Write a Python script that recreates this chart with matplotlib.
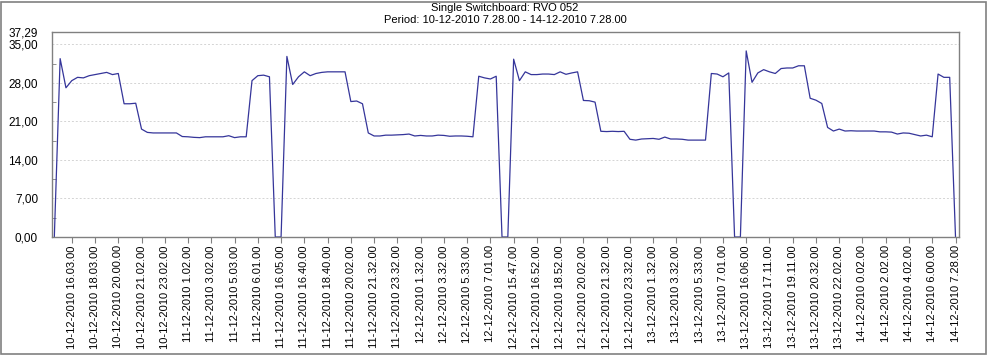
"""
Single switchboard temperature log, 10-12-2010 to 14-12-2010
"""

import matplotlib
matplotlib.use("Agg")
import matplotlib.pyplot as plt
from matplotlib.ticker import FixedLocator, FuncFormatter
from matplotlib.patches import Rectangle

# Data (one reading every ~30 min)
values = [
    0, 32.4, 27.1, 28.4, 29.0, 28.9, 29.3, 29.5, 29.7, 29.9, 29.5, 29.7,
    24.2, 24.2, 24.3, 19.6, 19.0, 18.9, 18.9, 18.9, 18.9, 18.9,
    18.25, 18.2, 18.1, 18.05, 18.2, 18.2, 18.2, 18.2, 18.4, 18.05, 18.2, 18.2,
    28.4, 29.3, 29.4, 29.1, 0, 0,
    32.8, 27.7, 29.1, 30.0, 29.3, 29.7, 29.9, 30.0, 30.0, 30.0, 30.0,
    24.6, 24.7, 24.2,
    18.9, 18.35, 18.35, 18.5, 18.5, 18.55, 18.6, 18.7, 18.35, 18.45, 18.35, 18.35,
    18.5, 18.45, 18.3, 18.35, 18.35, 18.3, 18.2,
    29.2, 28.9, 28.7, 29.2, 0, 0,
    32.3, 28.4, 30.0, 29.5, 29.5, 29.6, 29.6, 29.5, 30.0, 29.55, 29.8, 30.0,
    24.8, 24.75, 24.5,
    19.2, 19.15, 19.2, 19.15, 19.2,
    17.75, 17.6, 17.8, 17.85, 17.9, 17.75,
    18.15, 17.8, 17.8, 17.75, 17.6, 17.6, 17.6, 17.6,
    29.7, 29.6, 29.1, 29.8, 0, 0,
    33.8, 28.1, 29.8, 30.4, 30.0, 29.7, 30.6, 30.7, 30.7, 31.1, 31.1,
    25.2, 24.85, 24.25,
    19.9, 19.25, 19.6, 19.25, 19.3, 19.25, 19.25, 19.25, 19.25,
    19.1, 19.1, 19.05, 18.7, 18.9, 18.85, 18.6, 18.35, 18.5, 18.2,
    29.6, 29.0, 29.0, 0,
]

tick_labels = [
    "10-12-2010 16.03.00", "10-12-2010 18.03.00", "10-12-2010 20.00.00",
    "10-12-2010 21.02.00", "10-12-2010 23.02.00", "11-12-2010 1.02.00",
    "11-12-2010 3.02.00", "11-12-2010 5.03.00", "11-12-2010 6.01.00",
    "11-12-2010 16.05.00", "11-12-2010 16.40.00", "11-12-2010 18.40.00",
    "11-12-2010 20.02.00", "11-12-2010 21.32.00", "11-12-2010 23.32.00",
    "12-12-2010 1.32.00", "12-12-2010 3.32.00", "12-12-2010 5.33.00",
    "12-12-2010 7.01.00", "12-12-2010 15.47.00", "12-12-2010 16.52.00",
    "12-12-2010 18.52.00", "12-12-2010 20.02.00", "12-12-2010 21.32.00",
    "12-12-2010 23.32.00", "13-12-2010 1.32.00", "13-12-2010 3.32.00",
    "13-12-2010 5.33.00", "13-12-2010 7.01.00", "13-12-2010 16.06.00",
    "13-12-2010 17.11.00", "13-12-2010 19.11.00", "13-12-2010 20.32.00",
    "13-12-2010 22.02.00", "14-12-2010 0.02.00", "14-12-2010 2.02.00",
    "14-12-2010 4.02.00", "14-12-2010 6.00.00", "14-12-2010 7.28.00",
]

y_max = 37.29
title_1 = "Single Switchboard: RVO 052"
title_2 = "Period: 10-12-2010 7.28.00 - 14-12-2010 7.28.00"

plt.rcParams['font.family'] = ['Liberation Sans', 'DejaVu Sans']

fig = plt.figure(figsize=(9.9, 3.55), dpi=100)
ax = fig.add_axes([52 / 990, 1 - 237 / 355, (959 - 52) / 990, (237 - 31.7) / 355])

x = list(range(len(values)))
ax.plot(x, values, color="#35359a", linewidth=0.9)

# Axes limits
ax.set_xlim(-0.4, len(values) - 0.4)
ax.set_ylim(0, y_max)

# Y ticks: every 7 plus the max value
yticks = [0, 7, 14, 21, 28, 35, y_max]
ax.yaxis.set_major_locator(FixedLocator(yticks))
ax.yaxis.set_major_formatter(FuncFormatter(lambda v, p: f"{v:.2f}".replace(".", ",")))
ax.yaxis.set_minor_locator(FixedLocator([3.5, 10.5, 17.5, 24.5, 31.5]))
ax.tick_params(axis='y', which='major', length=0, pad=10, labelsize=8.5, colors='black')
ax.tick_params(axis='y', which='minor', direction='in', length=3, color='#808080')

# X ticks: every 4th reading starting at the 4th
xticks = [3 + 4 * k for k in range(len(tick_labels))]
ax.set_xticks(xticks)
ax.set_xticklabels(tick_labels, rotation=90, fontsize=8)
ax.tick_params(axis='x', length=4, color='#808080', pad=2)

# Dashed horizontal grid
for v in [7, 14, 21, 28, 35]:
    ax.axhline(v, color='#d4d4d4', linewidth=0.7, linestyle=(0, (2, 2)), zorder=0)

for s in ax.spines.values():
    s.set_color('#808080')
    s.set_linewidth(1.0)

# Titles
fig.text(505 / 990, 1 - 8 / 355, title_1, ha='center', va='center', fontsize=8)
fig.text(505 / 990, 1 - 20 / 355, title_2, ha='center', va='center', fontsize=8)

# Outer frame
fig.patches.append(Rectangle((1 / 990, 1 / 355), 985 / 990, 352 / 355,
                             transform=fig.transFigure, fill=False,
                             edgecolor='#808080', linewidth=1.2))

fig.savefig("out.png", dpi=100)
